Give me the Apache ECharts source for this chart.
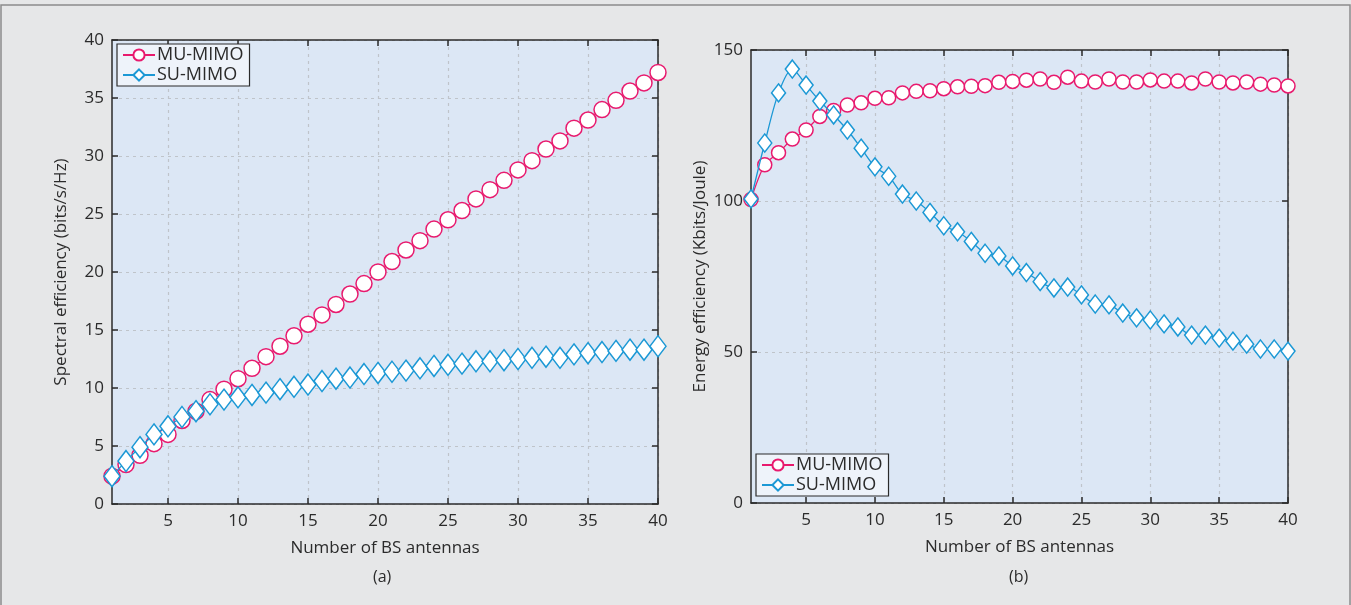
<!DOCTYPE html>
<html>
<head>
<meta charset="utf-8">
<script src="https://cdn.jsdelivr.net/npm/echarts@6/dist/echarts.min.js"></script>
<style>
  html, body { margin: 0; padding: 0; background: #e6e7e8; }
  #chart { width: 1351px; height: 605px; }
</style>
</head>
<body>
<div id="chart"></div>
<script>
// number of BS antennas, 1..40
const antennas = [1,2,3,4,5,6,7,8,9,10,11,12,13,14,15,16,17,18,19,20,
                  21,22,23,24,25,26,27,28,29,30,31,32,33,34,35,36,37,38,39,40];
const xTicks = [5, 10, 15, 20, 25, 30, 35, 40];

// (a) spectral efficiency
const seMU = [2.4,3.4,4.2,5.2,6.0,7.2,8.0,9.0,9.9,10.8,11.7,12.7,13.6,14.5,15.5,16.3,17.2,18.1,19.0,20.0,
              20.9,21.9,22.7,23.7,24.5,25.3,26.3,27.1,27.9,28.8,29.6,30.6,31.3,32.4,33.1,34.0,34.8,35.6,36.3,37.2];
const seSU = [2.4,3.7,4.9,6.0,6.7,7.5,8.0,8.6,9.0,9.2,9.4,9.6,9.9,10.1,10.3,10.6,10.8,10.9,11.2,11.3,
              11.4,11.5,11.7,11.9,12.0,12.1,12.3,12.3,12.4,12.5,12.6,12.7,12.6,12.9,13.0,13.1,13.2,13.3,13.3,13.6];

// (b) energy efficiency
const eeMU = [100.5,112,116,120.5,123.5,128,130,131.8,132.5,134,134.2,135.8,136.3,136.5,137.2,137.8,138,138.2,139.3,139.6,
              140,140.4,139.3,141,139.7,139.4,140.4,139.4,139.4,140.1,139.7,139.7,139.1,140.4,139.4,139.1,139.4,138.7,138.4,138.1];
const eeSU = [100.7,119.2,135.8,143.7,138.4,133.1,128.5,123.5,117.5,111.3,108.2,102.3,100.0,96.2,91.8,89.8,86.6,82.7,81.8,78.5,
              76.3,73.3,71.2,71.5,68.9,65.9,65.6,62.9,61.3,60.6,59.3,58.3,55.6,55.6,54.6,53.6,52.6,51.0,51.0,50.3];

const pink = '#e81a6e';
const blue = '#1b98d5';
const ink = '#2b2b2b';
const font = 'Open Sans';

function pairs(ys) {
    return antennas.map((x, i) => [x, ys[i]]);
}

function xAxis(gi, pos) {
    const bottom = pos === 'bottom';
    return {
        type: 'value', gridIndex: gi, position: pos, min: 1, max: 40,
        name: bottom ? 'Number of BS antennas' : '',
        nameLocation: 'middle', nameGap: 36,
        nameTextStyle: {color: ink, fontSize: 17, fontFamily: font},
        axisLine: {show: true, onZero: false, lineStyle: {color: ink, width: 1.5}},
        axisTick: {show: true, inside: true, length: 6, customValues: xTicks, lineStyle: {color: ink, width: 1.5}},
        axisLabel: {show: bottom, customValues: xTicks, color: ink, fontSize: 17, fontFamily: font, margin: 9},
        splitLine: {show: bottom, lineStyle: {color: '#bfc4ca', type: [3, 4], width: 1.2}}
    };
}

function yAxis(gi, pos, max, step, title) {
    const left = pos === 'left';
    return {
        type: 'value', gridIndex: gi, position: pos, min: 0, max: max, interval: step,
        name: left ? title : '',
        nameLocation: 'middle', nameGap: left ? 42 : 0,
        nameTextStyle: {color: ink, fontSize: 17, fontFamily: font},
        axisLine: {show: true, onZero: false, lineStyle: {color: ink, width: 1.5}},
        axisTick: {show: true, inside: true, length: 6, lineStyle: {color: ink, width: 1.5}},
        axisLabel: {show: left, color: ink, fontSize: 17, fontFamily: font, margin: 8},
        splitLine: {show: left, lineStyle: {color: '#bfc4ca', type: [3, 4], width: 1.2}}
    };
}

function line(name, gi, ys, color, symbol, size, smooth) {
    return {
        name: name, type: 'line', xAxisIndex: gi * 2, yAxisIndex: gi * 2,
        data: pairs(ys), smooth: smooth,
        symbol: symbol, symbolSize: size, showAllSymbol: true,
        lineStyle: {color: color, width: 1.3},
        itemStyle: {color: '#ffffff', borderColor: color, borderWidth: 1.5},
        emphasis: {disabled: true},
        z: name === 'MU-MIMO' ? 2 : 3
    };
}

function legendBox(left, top) {
    return {
        left: left, top: top, orient: 'vertical',
        itemWidth: 32, itemHeight: 14, itemGap: 2,
        padding: [2, 6, 2, 5],
        backgroundColor: '#eef3fa', borderColor: ink, borderWidth: 1.2,
        textStyle: {color: ink, fontSize: 18, fontFamily: font, padding: [0, 0, 0, -3]},
        selectedMode: false
    };
}

const chart = echarts.init(document.getElementById('chart'));
chart.setOption({
    backgroundColor: '#e6e7e8',
    animation: false,
    graphic: [{
        type: 'rect', shape: {x: 1, y: 5, width: 1349, height: 610},
        style: {fill: 'none', stroke: '#8c8c8c', lineWidth: 1.5}, silent: true
    }, {
        type: 'text', left: 373, top: 569,
        style: {text: '(a)', fill: ink, font: '16px "Open Sans"'}
    }, {
        type: 'text', left: 1009, top: 569,
        style: {text: '(b)', fill: ink, font: '16px "Open Sans"'}
    }],
    grid: [
        {left: 112, right: 693, top: 40, bottom: 101, show: true, backgroundColor: '#dce7f5', borderWidth: 0},
        {left: 751, right: 63, top: 50, bottom: 102, show: true, backgroundColor: '#dce7f5', borderWidth: 0}
    ],
    legend: [
        Object.assign(legendBox(117, 44), {data: [{name: 'MU-MIMO'}, {name: 'SU-MIMO'}]}),
        Object.assign(legendBox(756, 454), {data: [{name: 'MU-MIMO'}, {name: 'SU-MIMO'}]})
    ],
    xAxis: [xAxis(0, 'bottom'), xAxis(0, 'top'), xAxis(1, 'bottom'), xAxis(1, 'top')],
    yAxis: [
        yAxis(0, 'left', 40, 5, 'Spectral efficiency (bits/s/Hz)'), yAxis(0, 'right', 40, 5, ''),
        yAxis(1, 'left', 150, 50, 'Energy efficiency (Kbits/Joule)'), yAxis(1, 'right', 150, 50, '')
    ],
    series: [
        line('MU-MIMO', 0, seMU, pink, 'circle', 16, false),
        line('SU-MIMO', 0, seSU, blue, 'diamond', [16, 21], false),
        line('MU-MIMO', 1, eeMU, pink, 'circle', 14, 0.3),
        line('SU-MIMO', 1, eeSU, blue, 'diamond', [14, 18], 0.3)
    ]
});
</script>
</body>
</html>
